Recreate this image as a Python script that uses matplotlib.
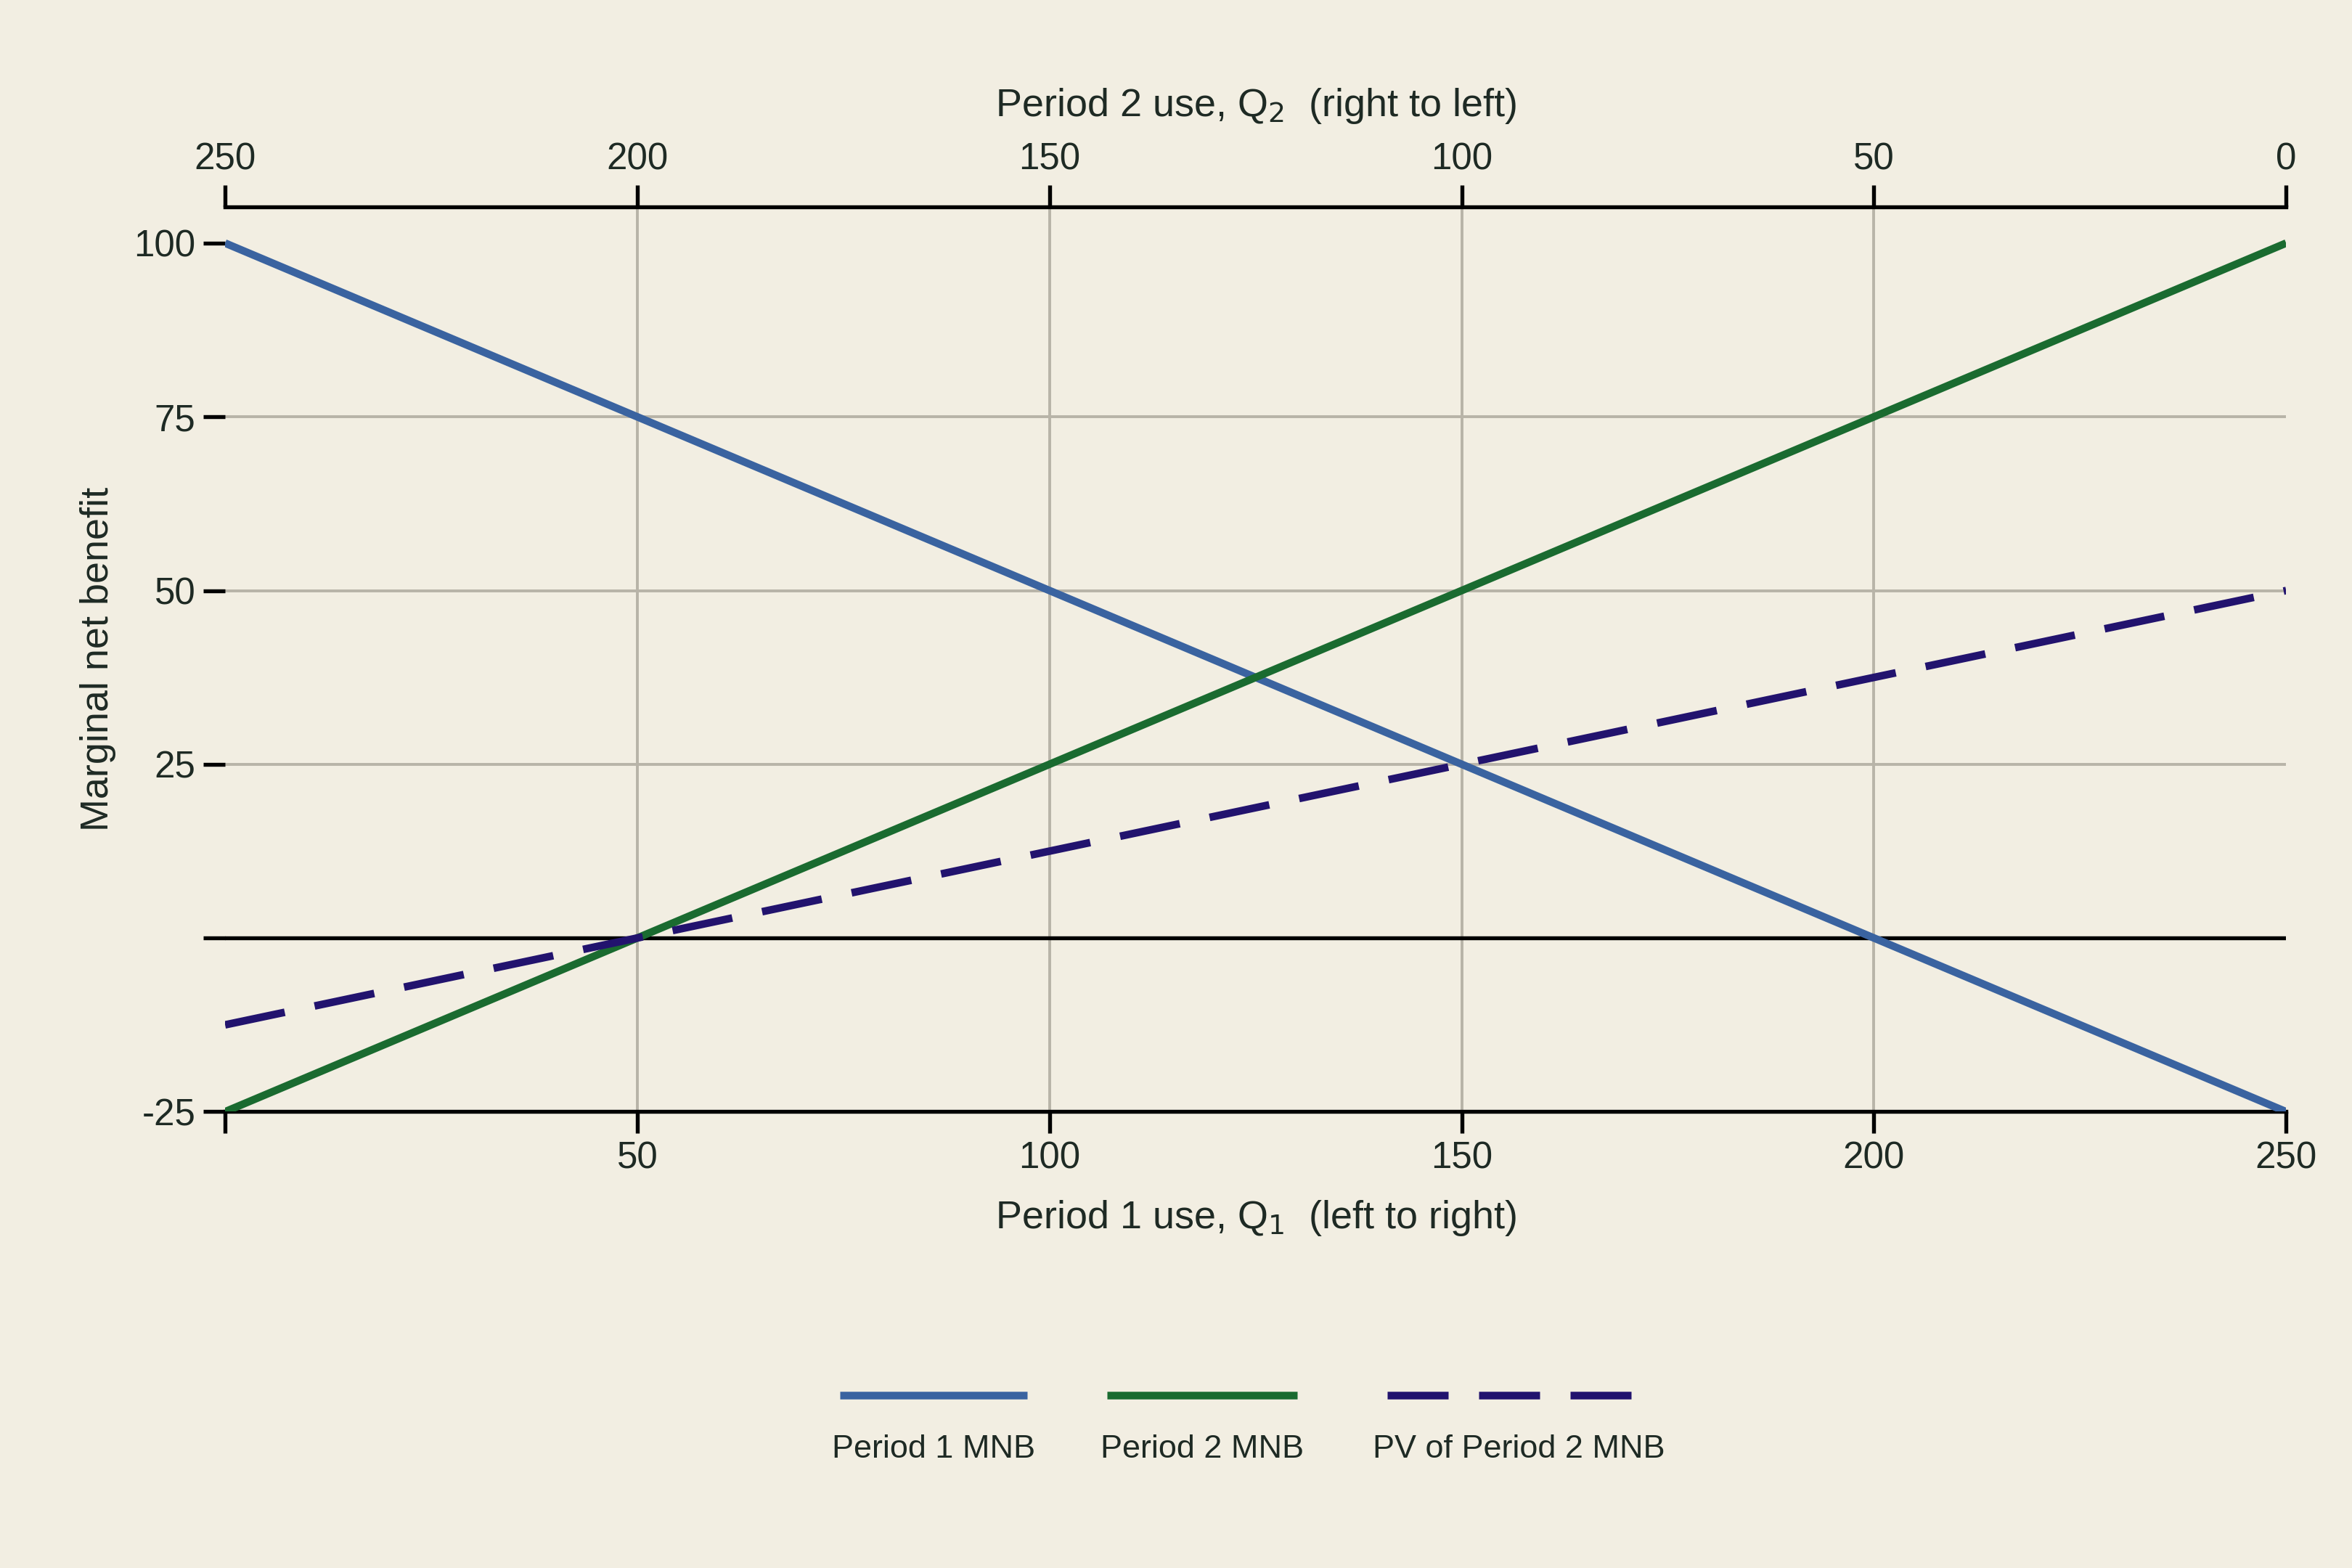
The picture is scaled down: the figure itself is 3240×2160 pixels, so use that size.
import matplotlib
matplotlib.use("Agg")
import matplotlib.pyplot as plt
from matplotlib.lines import Line2D

plt.rcParams['font.family'] = ['Liberation Sans Narrow', 'Liberation Sans', 'DejaVu Sans']

q1 = [0, 250]
mnb1 = [100, -25]
mnb2 = [-25, 100]
pv_mnb2 = [-12.5, 50]
yticks = [-25, 0, 25, 50, 75, 100]
ytick_labels = ['-25', '', '25', '50', '75', '100']
xticks = [0, 50, 100, 150, 200, 250]

bg = '#f2eee2'
c_blue = '#3a63a0'
c_green = '#1a6b30'
c_purple = '#22136e'
c_grid = '#b8b4a8'
c_text = '#1e2a24'

fig = plt.figure(figsize=(15, 10), dpi=216, facecolor=bg)
ax = fig.add_axes([0.0957, 0.291, 0.8763, 0.577], facecolor=bg)

for x in xticks[1:-1]:
    ax.axvline(x, color=c_grid, lw=1.3, zorder=1)
for y in [25, 50, 75]:
    ax.axhline(y, color=c_grid, lw=1.3, zorder=1)
ax.axhline(0, color='black', lw=1.8, zorder=2)

ax.plot(q1, mnb1, color=c_blue, lw=3.5, zorder=3, solid_capstyle='butt')
ax.plot(q1, mnb2, color=c_green, lw=3.5, zorder=3, solid_capstyle='butt')
ax.plot(q1, pv_mnb2, color=c_purple, lw=3.5, zorder=4, dashes=(8, 4))

ax.set_xlim(0, 250)
ax.set_ylim(-25, 105.2)
ax.spines['left'].set_visible(False)
ax.spines['right'].set_visible(False)
for s in ['top', 'bottom']:
    ax.spines[s].set_linewidth(1.8)

ax.set_yticks(yticks)
ax.set_yticklabels(ytick_labels)
ax.set_xticks(xticks)
ax.set_xticklabels([''] + [str(v) for v in xticks[1:]])
ax.tick_params(axis='both', labelsize=17, colors='black', labelcolor=c_text,
               width=1.8, length=10)
ax.set_ylabel('Marginal net benefit', fontsize=18, color=c_text, labelpad=8)
ax.set_xlabel('Period 1 use, Q$_1$  (left to right)', fontsize=18, color=c_text, labelpad=10)

top = ax.secondary_xaxis('top', functions=(lambda x: 250 - x, lambda x: 250 - x))
top.set_xticks(xticks)
top.tick_params(labelsize=17, labelcolor=c_text, width=1.8, length=10)
top.spines['top'].set_visible(False)
top.set_xlabel('Period 2 use, Q$_2$  (right to left)', fontsize=18, color=c_text, labelpad=12)

# legend with swatches above labels
leg = fig.add_axes([0, 0, 1, 0.2], facecolor='none')
leg.set_xlim(0, 1568)
leg.set_ylim(1045, 836)
leg.axis('off')
items = [('Period 1 MNB', c_blue, None, 560, 685),
         ('Period 2 MNB', c_green, None, 738, 865),
         ('PV of Period 2 MNB', c_purple, (8, 4), 925, 1100)]
for label, col, dash, x0, x1 in items:
    ln = Line2D([x0, x1], [930, 930], color=col, lw=3.5, solid_capstyle='butt')
    if dash:
        ln.set_dashes(dash)
    leg.add_line(ln)
    leg.text((x0 + x1) / 2, 966, label, ha='center', va='center', fontsize=15, color=c_text)

fig.savefig('out.png', dpi=216, facecolor=bg)
